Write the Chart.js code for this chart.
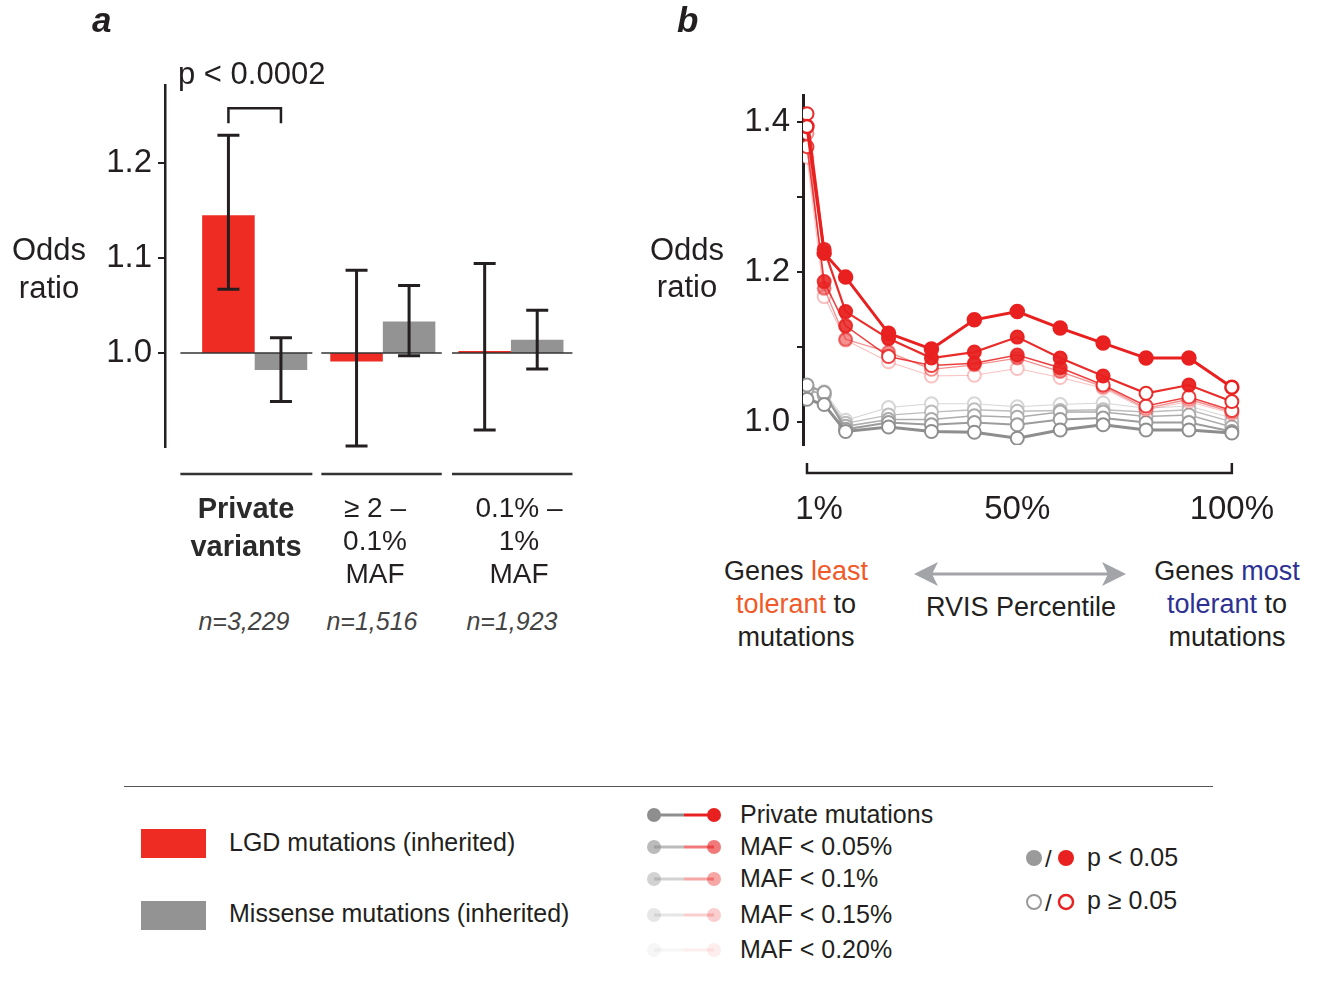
<!DOCTYPE html>
<html>
<head>
<meta charset="utf-8">
<script src="https://cdn.jsdelivr.net/npm/chart.js@4.4.1/dist/chart.umd.min.js"></script>
<style>
  body { margin: 0; background: #fff; width: 1324px; height: 983px; position: relative; overflow: hidden;
         font-family: "Liberation Sans", Arial, sans-serif; color: #231f20; }
  canvas { position: absolute; }
  .t { position: absolute; white-space: nowrap; }
  .c { text-align: center; }
</style>
</head>
<body>
<canvas id="chartA" width="600" height="490" style="left:0;top:0"></canvas>
<canvas id="chartB" width="724" height="540" style="left:600px;top:0"></canvas>

<!-- panel a text -->
<div class="t" style="left:92px;top:0;font:italic bold 35px 'Liberation Sans',Arial">a</div>
<div class="t" style="left:178px;top:56px;font-size:31px">p &lt; 0.0002</div>
<div class="t c" style="left:0;top:231px;width:98px;font-size:31px;line-height:38px">Odds<br>ratio</div>
<div class="t c" style="left:171px;top:489px;width:150px;font-size:29px;line-height:38px;font-weight:bold;color:#2a2a2a">Private<br>variants</div>
<div class="t c" style="left:315px;top:491px;width:120px;font-size:28px;line-height:33px">≥ 2 –<br>0.1%<br>MAF</div>
<div class="t c" style="left:459px;top:491px;width:120px;font-size:28px;line-height:33px">0.1% –<br>1%<br>MAF</div>
<div class="t c" style="left:184px;top:607px;width:120px;font-size:25px;font-style:italic;color:#444">n=3,229</div>
<div class="t c" style="left:312px;top:607px;width:120px;font-size:25px;font-style:italic;color:#444">n=1,516</div>
<div class="t c" style="left:452px;top:607px;width:120px;font-size:25px;font-style:italic;color:#444">n=1,923</div>

<!-- panel b text -->
<div class="t" style="left:677px;top:0;font:italic bold 35px 'Liberation Sans',Arial">b</div>
<div class="t c" style="left:637px;top:231px;width:100px;font-size:31px;line-height:37px">Odds<br>ratio</div>
<div class="t c" style="left:696px;top:555px;width:200px;font-size:27px;line-height:33px">Genes <span style="color:#f05a28">least</span><br><span style="color:#f05a28">tolerant</span> to<br>mutations</div>
<div class="t c" style="left:921px;top:592px;width:200px;font-size:27px">RVIS Percentile</div>
<div class="t c" style="left:1127px;top:555px;width:200px;font-size:27px;line-height:33px">Genes <span style="color:#2e3192">most</span><br><span style="color:#2e3192">tolerant</span> to<br>mutations</div>
<svg style="position:absolute;left:910px;top:558px" width="220" height="32">
  <line x1="18" y1="16" x2="202" y2="16" stroke="#a3a4a8" stroke-width="3"/>
  <polygon points="4,16 28,4 22,16 28,28" fill="#a3a4a8"/>
  <polygon points="216,16 192,4 198,16 192,28" fill="#a3a4a8"/>
</svg>

<!-- legend -->
<div style="position:absolute;left:124px;top:786px;width:1089px;border-top:1.5px solid #555"></div>
<div style="position:absolute;left:141px;top:829px;width:65px;height:29px;background:#ee2c24"></div>
<div class="t" style="left:229px;top:828px;font-size:25px">LGD mutations (inherited)</div>
<div style="position:absolute;left:141px;top:901px;width:65px;height:29px;background:#939393"></div>
<div class="t" style="left:229px;top:899px;font-size:25px">Missense mutations (inherited)</div>
<div id="seriesLegend"></div>
<svg style="position:absolute;left:1022px;top:845px" width="60" height="70">
  <circle cx="12" cy="13" r="8" fill="#9a9a9a"/>
  <text x="23" y="22" font-size="24" font-family="Liberation Sans, Arial" fill="#231f20">/</text>
  <circle cx="44" cy="13" r="8" fill="#e8201f"/>
  <circle cx="12" cy="57" r="7" fill="#fff" stroke="#9a9a9a" stroke-width="2"/>
  <text x="23" y="66" font-size="24" font-family="Liberation Sans, Arial" fill="#231f20">/</text>
  <circle cx="44" cy="57" r="7" fill="#fff" stroke="#e8201f" stroke-width="2.5"/>
</svg>
<div class="t" style="left:1087px;top:843px;font-size:25px">p &lt; 0.05</div>
<div class="t" style="left:1087px;top:886px;font-size:25px">p ≥ 0.05</div>

<script>
const FONT = "'Liberation Sans', Arial, sans-serif";

// ---- panel a data ----
const variantClasses = ['Private variants', '≥ 2 – 0.1% MAF', '0.1% – 1% MAF'];
const lgdOdds  = [1.145, 0.991, 1.002];
const lgdLow   = [1.067, 0.902, 0.919];
const lgdHigh  = [1.229, 1.087, 1.094];
const misOdds  = [0.982, 1.033, 1.014];
const misLow   = [0.949, 0.997, 0.983];
const misHigh  = [1.016, 1.071, 1.045];
const yTicksA  = [1.0, 1.1, 1.2];

// ---- panel b data ----
const rvisPercentile = [1, 5, 10, 20, 30, 40, 50, 60, 70, 80, 90, 100];
const seriesNames = ['Private mutations', 'MAF < 0.05%', 'MAF < 0.1%', 'MAF < 0.15%', 'MAF < 0.20%'];
const lgdPrivate = [1.394, 1.225, 1.193, 1.118, 1.097, 1.136, 1.147, 1.125, 1.105, 1.085, 1.085, 1.046];
const lgdMaf005  = [1.411, 1.230, 1.147, 1.111, 1.085, 1.093, 1.113, 1.085, 1.061, 1.038, 1.049, 1.027];
const lgdMaf01   = [1.367, 1.187, 1.128, 1.087, 1.075, 1.078, 1.089, 1.072, 1.049, 1.021, 1.033, 1.015];
const lgdMaf015  = [1.385, 1.178, 1.110, 1.093, 1.070, 1.076, 1.085, 1.067, 1.047, 1.018, 1.030, 1.013];
const lgdMaf020  = [1.353, 1.167, 1.109, 1.080, 1.061, 1.062, 1.071, 1.059, 1.045, 1.016, 1.027, 1.011];
const misPrivate = [1.030, 1.023, 0.987, 0.993, 0.987, 0.986, 0.978, 0.989, 0.996, 0.989, 0.989, 0.985];
const misMaf005  = [1.049, 1.039, 0.990, 0.999, 0.996, 0.999, 0.996, 1.003, 1.005, 0.999, 0.999, 0.987];
const misMaf01   = [1.044, 1.035, 0.994, 1.003, 1.003, 1.008, 1.006, 1.013, 1.013, 1.007, 1.009, 0.993];
const misMaf015  = [1.042, 1.037, 0.998, 1.009, 1.013, 1.016, 1.014, 1.015, 1.016, 1.013, 1.016, 1.000];
const misMaf020  = [1.047, 1.040, 1.002, 1.019, 1.024, 1.024, 1.020, 1.023, 1.025, 1.018, 1.021, 1.005];
// 1 = p < 0.05 (filled marker)
const lgdSigPrivate = [0, 1, 1, 1, 1, 1, 1, 1, 1, 1, 1, 0];
const lgdSigMaf005  = [0, 1, 1, 1, 1, 1, 1, 1, 1, 0, 1, 0];
const lgdSigMaf01   = [0, 1, 1, 0, 0, 1, 1, 1, 0, 0, 0, 0];
const lgdSigMaf015  = [0, 1, 1, 1, 0, 1, 1, 1, 0, 0, 0, 0];
const lgdSigMaf020  = [0, 0, 0, 0, 0, 0, 0, 0, 0, 0, 0, 0];
const misSig        = [0, 0, 0, 0, 0, 0, 0, 0, 0, 0, 0, 0];
const yTicksB = [1.0, 1.1, 1.2, 1.3, 1.4];
const yTickLabelsB = ['1.0', '', '1.2', '', '1.4'];
const xTickLabelsB = [1, 50, 100];

const INK = '#231f20';
const RED = [232, 32, 31];
const GRAY = [142, 142, 142];
const redAlpha  = [1, 0.95, 0.85, 0.5, 0.28];
const grayShade = ['#8e8e8e', '#9c9c9c', '#acacac', '#bdbdbd', '#d6d6d6'];
const lineWidths = [3, 2.2, 1.6, 1.3, 1.1];
// horizontal extent of each group's baseline/underline, in x-axis units around the group
const groupSpan = [[-0.58, 0.45], [-0.48, 0.46], [-0.46, 0.48]];

// ---------- panel a ----------
const panelA = {
  id: 'panelA',
  afterDatasetsDraw(chart) {
    const { ctx, scales: { x, y } } = chart;
    ctx.save();
    // baseline at OR = 1 and separators under each group
    ctx.strokeStyle = '#333';
    variantClasses.forEach((_, i) => {
      const x0 = x.getPixelForValue(i + groupSpan[i][0]), x1 = x.getPixelForValue(i + groupSpan[i][1]);
      ctx.lineWidth = 1.5;
      ctx.beginPath();
      ctx.moveTo(x0, y.getPixelForValue(1)); ctx.lineTo(x1, y.getPixelForValue(1));
      ctx.stroke();
      ctx.lineWidth = 2.5;
      ctx.beginPath();
      ctx.moveTo(x0, chart.chartArea.bottom + 27); ctx.lineTo(x1, chart.chartArea.bottom + 27);
      ctx.stroke();
    });
    // error bars
    ctx.strokeStyle = INK;
    ctx.lineWidth = 3;
    [[lgdLow, lgdHigh], [misLow, misHigh]].forEach(([lo, hi], d) => {
      chart.getDatasetMeta(d).data.forEach((bar, i) => {
        const px = bar.x, yl = y.getPixelForValue(lo[i]), yh = y.getPixelForValue(hi[i]);
        ctx.beginPath();
        ctx.moveTo(px, yl); ctx.lineTo(px, yh);
        ctx.moveTo(px - 11, yl); ctx.lineTo(px + 11, yl);
        ctx.moveTo(px - 11, yh); ctx.lineTo(px + 11, yh);
        ctx.stroke();
      });
    });
    // significance bracket over the private variants
    const bx0 = chart.getDatasetMeta(0).data[0].x, bx1 = chart.getDatasetMeta(1).data[0].x;
    const top = y.getPixelForValue(lgdHigh[0]) - 27;
    ctx.lineWidth = 2.5;
    ctx.beginPath();
    ctx.moveTo(bx0, top + 15); ctx.lineTo(bx0, top); ctx.lineTo(bx1, top); ctx.lineTo(bx1, top + 15);
    ctx.stroke();
    ctx.restore();
  }
};

new Chart(document.getElementById('chartA'), {
  type: 'bar',
  data: {
    datasets: [
      { label: 'LGD mutations (inherited)', data: lgdOdds.map((v, i) => ({ x: i, y: [1, v] })),
        backgroundColor: '#ee2c24', categoryPercentage: 0.82, barPercentage: 1 },
      { label: 'Missense mutations (inherited)', data: misOdds.map((v, i) => ({ x: i, y: [1, v] })),
        backgroundColor: '#939393', categoryPercentage: 0.82, barPercentage: 1 }
    ]
  },
  options: {
    responsive: false,
    animation: false,
    layout: { padding: { top: 85, bottom: 43, right: 25, left: 0 } },
    plugins: { legend: { display: false }, tooltip: { enabled: false } },
    scales: {
      x: {
        type: 'linear', min: -0.7, max: 2.5, offset: false, display: false,
        afterBuildTicks: s => { s.ticks = variantClasses.map((_, i) => ({ value: i })); }
      },
      y: {
        min: 0.901, max: 1.282,
        afterBuildTicks: s => { s.ticks = yTicksA.map(v => ({ value: v })); },
        afterFit: s => { s.width = 165; },
        border: { display: true, color: INK, width: 2.5 },
        grid: { drawOnChartArea: false, drawTicks: true, tickLength: 7, color: INK, lineWidth: 2 },
        ticks: { padding: 6, color: INK, font: { size: 33, family: FONT }, callback: v => v.toFixed(1) }
      }
    }
  },
  plugins: [panelA]
});

// ---------- panel b ----------
const rgba = (c, a) => `rgba(${c[0]},${c[1]},${c[2]},${a})`;
const lgdSeries = [lgdPrivate, lgdMaf005, lgdMaf01, lgdMaf015, lgdMaf020];
const lgdSig = [lgdSigPrivate, lgdSigMaf005, lgdSigMaf01, lgdSigMaf015, lgdSigMaf020];
const misSeries = [misPrivate, misMaf005, misMaf01, misMaf015, misMaf020];

const lineSets = [];
lgdSeries.forEach((vals, k) => {
  const col = rgba(RED, redAlpha[k]);
  lineSets.push({
    label: 'LGD ' + seriesNames[k],
    data: vals.map((v, i) => ({ x: rvisPercentile[i], y: v })),
    borderColor: col, borderWidth: lineWidths[k],
    pointRadius: 6.5, pointBorderColor: col, pointBorderWidth: k === 0 ? 2.5 : 2,
    pointBackgroundColor: lgdSig[k].map(s => s ? col : '#fff')
  });
});
misSeries.forEach((vals, k) => {
  const col = grayShade[k];
  lineSets.push({
    label: 'Missense ' + seriesNames[k],
    data: vals.map((v, i) => ({ x: rvisPercentile[i], y: v })),
    borderColor: col, borderWidth: lineWidths[k],
    pointRadius: 6.5, pointBorderColor: col, pointBorderWidth: 2,
    pointBackgroundColor: misSig.map(s => s ? col : '#fff')
  });
});

const panelB = {
  id: 'panelB',
  afterDraw(chart) {
    const { ctx, scales: { x } } = chart;
    const yAxis = 473, x0 = x.getPixelForValue(1), x1 = x.getPixelForValue(100);
    ctx.save();
    ctx.strokeStyle = INK;
    ctx.lineWidth = 2.5;
    ctx.beginPath();
    ctx.moveTo(x0, yAxis - 10); ctx.lineTo(x0, yAxis); ctx.lineTo(x1, yAxis); ctx.lineTo(x1, yAxis - 10);
    ctx.stroke();
    ctx.fillStyle = INK;
    ctx.font = `33px ${FONT}`;
    ctx.textAlign = 'center';
    ctx.textBaseline = 'middle';
    xTickLabelsB.forEach(v => {
      const off = v === 1 ? 12 : 0;
      ctx.fillText(v + '%', x.getPixelForValue(v) + off, 510);
    });
    ctx.restore();
  }
};

new Chart(document.getElementById('chartB'), {
  type: 'line',
  data: { datasets: lineSets },
  options: {
    responsive: false,
    animation: false,
    layout: { padding: { top: 95, bottom: 95, right: 84, left: 0 } },
    plugins: { legend: { display: false }, tooltip: { enabled: false } },
    scales: {
      x: { type: 'linear', min: 0.07, max: 101.9, display: false },
      y: {
        min: 0.969, max: 1.436,
        afterBuildTicks: s => { s.ticks = yTicksB.map(v => ({ value: v })); },
        afterFit: s => { s.width = 203; },
        border: { display: true, color: INK, width: 3 },
        grid: { drawOnChartArea: false, drawTicks: true, tickLength: 6, color: INK, lineWidth: 2 },
        ticks: { padding: 7, color: INK, font: { size: 33, family: FONT }, callback: (v, i) => yTickLabelsB[i] }
      }
    }
  },
  plugins: [panelB]
});

// ---------- series legend ----------
const legendRowsY = [815, 847, 879, 915, 950];
const legendAlpha = [1, 0.6, 0.4, 0.22, 0.08];
const holder = document.getElementById('seriesLegend');
seriesNames.forEach((name, k) => {
  const a = legendAlpha[k];
  const g = rgba(GRAY, a), r = rgba(RED, a);
  holder.insertAdjacentHTML('beforeend',
    `<svg style="position:absolute;left:644px;top:${legendRowsY[k] - 10}px" width="80" height="20">
       <line x1="10" y1="10" x2="40" y2="10" stroke="${g}" stroke-width="3"/>
       <line x1="40" y1="10" x2="70" y2="10" stroke="${r}" stroke-width="3"/>
       <circle cx="10" cy="10" r="7" fill="${g}"/>
       <circle cx="70" cy="10" r="7" fill="${r}"/>
     </svg>
     <div class="t" style="left:740px;top:${legendRowsY[k] - 15}px;font-size:25px">${name}</div>`);
});
</script>
</body>
</html>
